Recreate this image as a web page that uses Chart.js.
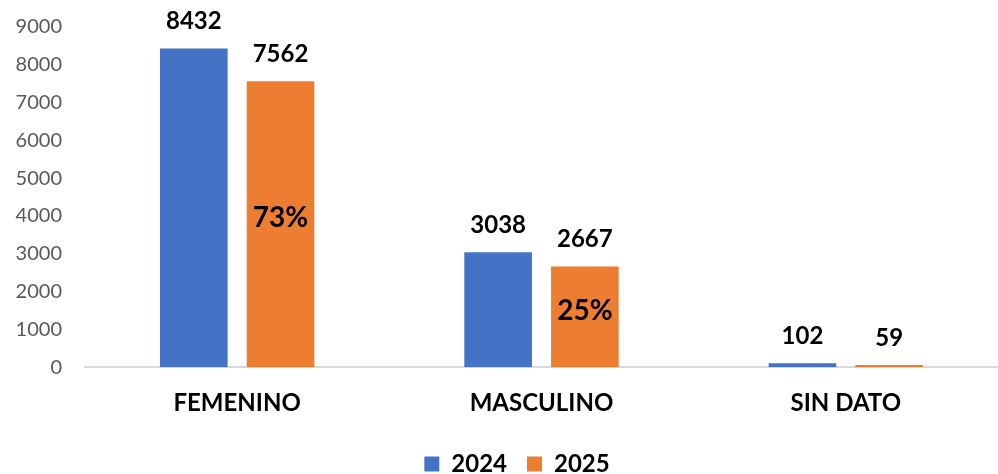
<!DOCTYPE html>
<html>
<head>
<meta charset="utf-8">
<script src="https://cdn.jsdelivr.net/npm/chart.js@4.4.1/dist/chart.umd.min.js"></script>
<style>
  html, body { margin: 0; padding: 0; background: #fff; }
  #wrap { width: 998px; height: 474px; }
</style>
</head>
<body>
<div id="wrap"><canvas id="bar-chart"></canvas></div>
<script>
var categories = ["FEMENINO", "MASCULINO", "SIN DATO"];
var values2024 = [8432, 3038, 102];
var values2025 = [7562, 2667, 59];
var shares2025 = ["73%", "25%", ""];
var yTicks = [0, 1000, 2000, 3000, 4000, 5000, 6000, 7000, 8000, 9000];

var FONT = "Lato, 'Open Sans', sans-serif";

// value labels above bars + share labels inside orange bars
var labelPlugin = {
  id: 'labels',
  afterLayout: function(chart) {
    // nudge legend a bit right, like the original
    chart.legend.left += 36;
  },
  afterDatasetsDraw: function(chart) {
    var ctx = chart.ctx;
    ctx.save();
    ctx.fillStyle = '#000';
    ctx.font = 'bold 24px ' + FONT;
    ctx.textAlign = 'center';
    ctx.textBaseline = 'bottom';
    chart.data.datasets.forEach(function(ds, i) {
      chart.getDatasetMeta(i).data.forEach(function(bar, j) {
        ctx.fillText(ds.data[j], bar.x, bar.y - 15);
      });
    });
    ctx.font = 'bold 28px ' + FONT;
    ctx.textBaseline = 'middle';
    chart.getDatasetMeta(1).data.forEach(function(bar, j) {
      if (shares2025[j]) ctx.fillText(shares2025[j], bar.x, (bar.y + bar.base) / 2 - 6);
    });
    ctx.restore();
  }
};

new Chart(document.getElementById("bar-chart"), {
  type: 'bar',
  data: {
    labels: categories,
    datasets: [{
      label: "2024",
      backgroundColor: "#4472C4",
      data: values2024
    }, {
      label: "2025",
      backgroundColor: "#ED7D31",
      data: values2025
    }]
  },
  options: {
    responsive: true,
    maintainAspectRatio: false,
    animation: false,
    categoryPercentage: 0.57,
    barPercentage: 0.78,
    layout: { padding: { top: 19, left: 0, right: 0, bottom: -12 } },
    plugins: {
      legend: {
        position: 'bottom',
        labels: {
          boxWidth: 15,
          boxHeight: 15,
          padding: 20,
          color: '#000',
          font: { family: FONT, size: 24, weight: 'bold' }
        }
      },
      tooltip: { enabled: false }
    },
    scales: {
      x: {
        grid: { display: false },
        border: { color: '#d9d9d9', width: 2 },
        ticks: {
          color: '#000',
          padding: 14,
          font: { family: FONT, size: 24, weight: 'bold' }
        }
      },
      y: {
        min: 0,
        max: 9000,
        grid: { display: false },
        border: { display: false },
        afterBuildTicks: function(axis) {
          axis.ticks = yTicks.map(function(v) { return { value: v }; });
        },
        afterFit: function(axis) { axis.width = 85; },
        ticks: {
          color: '#595959',
          padding: 15,
          font: { family: FONT, size: 20 },
          callback: function(v) { return String(v); }
        }
      }
    }
  },
  plugins: [labelPlugin]
});
</script>
</body>
</html>
